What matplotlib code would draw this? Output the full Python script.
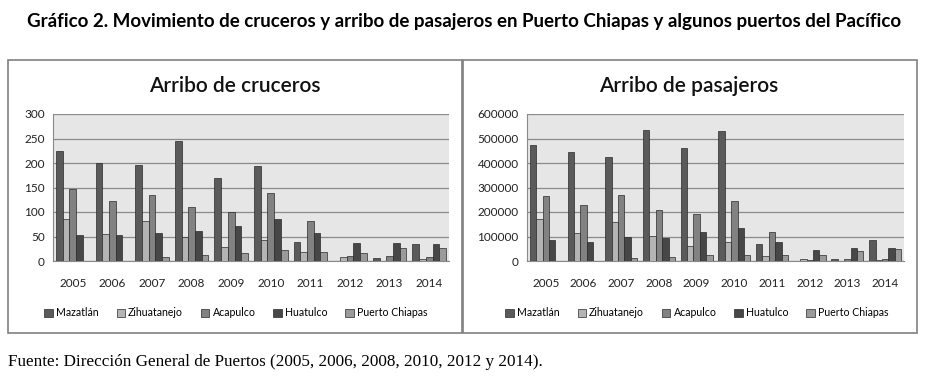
import numpy as np
import matplotlib.pyplot as plt
from matplotlib.patches import Rectangle

# Datos
anios = ["2005", "2006", "2007", "2008", "2009", "2010", "2011", "2012", "2013", "2014"]
puertos = ["Mazatlán", "Zihuatanejo", "Acapulco", "Huatulco", "Puerto Chiapas"]

cruceros_mazatlan = [225, 200, 196, 245, 169, 194, 39, 0, 6, 35]
cruceros_zihuatanejo = [86, 56, 81, 49, 29, 43, 18, 8, 0, 4]
cruceros_acapulco = [147, 122, 134, 110, 100, 138, 81, 10, 10, 8]
cruceros_huatulco = [54, 54, 58, 61, 72, 86, 58, 37, 37, 35]
cruceros_chiapas = [0, 0, 8, 12, 16, 22, 18, 16, 26, 26]

pasajeros_mazatlan = [472000, 445000, 425000, 533000, 460000, 530000, 69000, 0, 8000, 85000]
pasajeros_zihuatanejo = [171000, 114000, 159000, 102000, 61000, 77000, 20000, 8000, 0, 4000]
pasajeros_acapulco = [265000, 228000, 269000, 208000, 191000, 244000, 118000, 4000, 8000, 8000]
pasajeros_huatulco = [85000, 77000, 99000, 95000, 118000, 134000, 77000, 45000, 53000, 53000]
pasajeros_chiapas = [0, 0, 12000, 16000, 24000, 24000, 24000, 24000, 41000, 49000]

colores = ["#5a5a5a", "#b4b4b4", "#828282", "#474747", "#9a9a9a"]

W, H = 928, 385
fig = plt.figure(figsize=(W / 100, H / 100), dpi=100)
fig.patch.set_facecolor("white")


def px(x, y, w, h):
    # caja en pixeles (origen arriba-izquierda) -> fracción de figura
    return [x / W, (H - y - h) / H, w / W, h / H]


fig.text(464 / W, 1 - 22 / H, "Gráfico 2. Movimiento de cruceros y arribo de pasajeros en Puerto Chiapas y algunos puertos del Pacífico",
         ha="center", va="center", fontsize=13.5, fontweight="bold", family="Lato")

fig.text(8 / W, 1 - 362 / H, "Fuente: Dirección General de Puertos (2005, 2006, 2008, 2010, 2012 y 2014).",
         ha="left", va="center", fontsize=12.3, family="Liberation Serif")

# marcos de los dos paneles
for x0, x1 in [(8, 462), (463, 917)]:
    fig.patches.append(Rectangle((x0 / W, 1 - 333 / H), (x1 - x0) / W, (333 - 60) / H,
                                 transform=fig.transFigure, fill=False, edgecolor="#808080", lw=1.2))


def panel(caja, series, ymax, paso, titulo, xt, xl):
    ax = fig.add_axes(px(*caja))
    ax.set_facecolor("#e6e6e6")
    x = np.arange(len(anios))
    ancho = 0.17
    for i, (vals, col) in enumerate(zip(series, colores)):
        ax.bar(x + (i - 2) * ancho, vals, ancho, color=col, edgecolor="#2a2a2a", linewidth=0.5,
               label=puertos[i], zorder=3)
    ax.set_xlim(-0.5, len(anios) - 0.5)
    ax.set_ylim(0, ymax)
    ax.set_yticks(np.arange(0, ymax + 1, paso))
    ax.set_xticks(x)
    ax.set_xticklabels(anios)
    ax.grid(axis="y", color="#8a8a8a", linewidth=0.9, zorder=1)
    for s in ["top", "right"]:
        ax.spines[s].set_visible(False)
    ax.spines["left"].set_color("#8a8a8a")
    ax.spines["bottom"].set_color("#8a8a8a")
    ax.tick_params(axis="x", length=0, pad=12, labelsize=8.5, labelcolor="#222222")
    ax.tick_params(axis="y", length=0, pad=6, labelsize=8.5, labelcolor="#222222")
    for t in ax.get_xticklabels() + ax.get_yticklabels():
        t.set_family("Lato")
    fig.text(xt / W, 1 - 86 / H, titulo, ha="center", va="center", fontsize=15,
             fontweight="semibold", family="Lato", color="#111111")
    ax.legend(loc="center", bbox_to_anchor=(xl / W, 1 - 313 / H), bbox_transform=fig.transFigure,
              ncol=5, frameon=False, prop={"family": "Lato", "size": 7.6},
              handlelength=0.8, handleheight=0.8, handletextpad=0.3, columnspacing=1.7)
    return ax


panel((53, 114, 396, 147),
      [cruceros_mazatlan, cruceros_zihuatanejo, cruceros_acapulco, cruceros_huatulco, cruceros_chiapas],
      300, 50, "Arribo de cruceros", 235, 236)
panel((527, 114, 377, 147),
      [pasajeros_mazatlan, pasajeros_zihuatanejo, pasajeros_acapulco, pasajeros_huatulco, pasajeros_chiapas],
      600000, 100000, "Arribo de pasajeros", 689, 697)

fig.savefig("out.png", dpi=100)
